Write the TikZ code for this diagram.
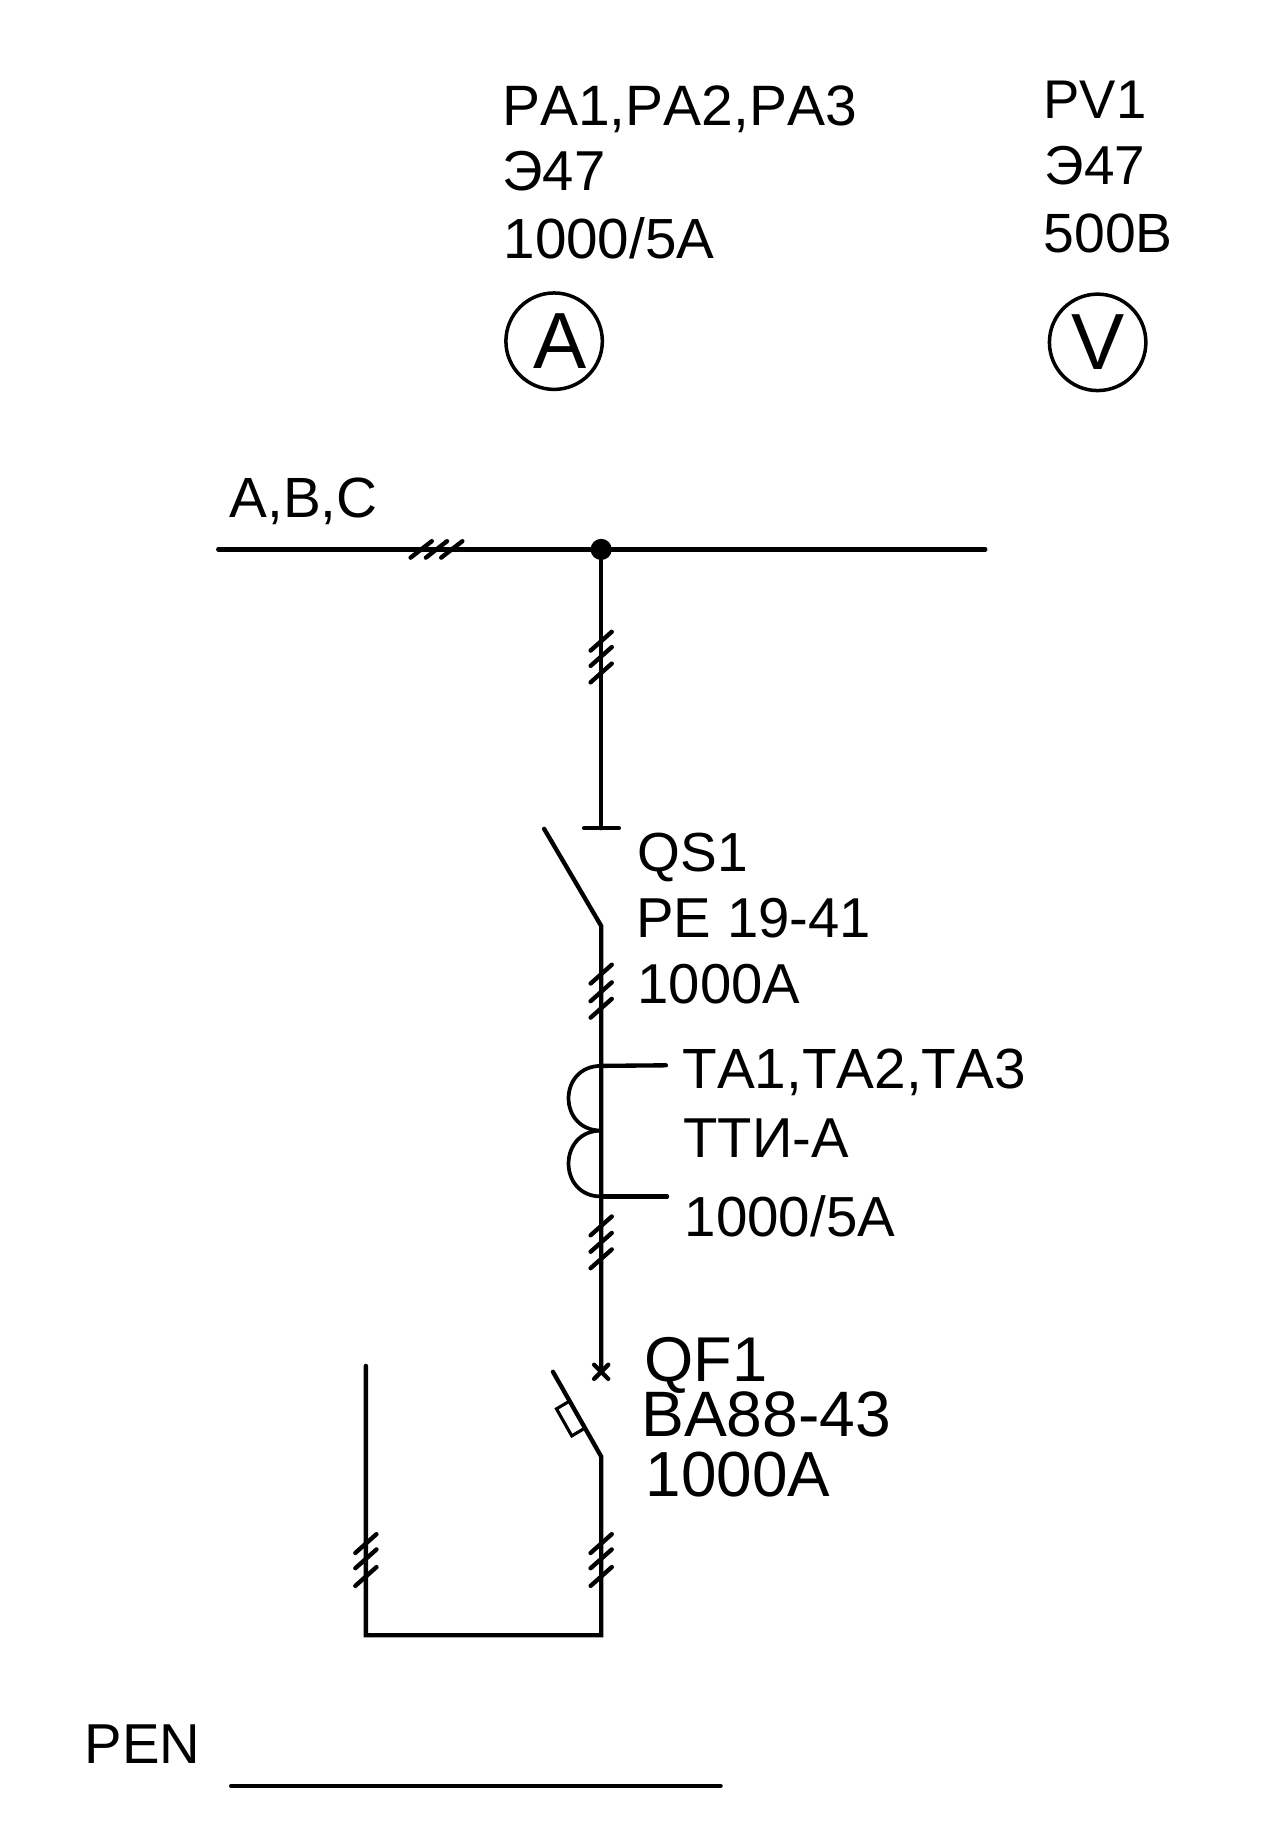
\documentclass[tikz,border=0pt]{standalone}
\usepackage{fontspec}
\setmainfont[Kerning=Off]{Liberation Sans}
\newcommand{\fsz}[1]{\fontsize{\dimexpr#1\dimexpr0.5669pt\relax\relax}{10pt}\selectfont}
\tikzset{
  x=0.02cm,y=-0.02cm,
  wire/.style={line width=2.1pt,line cap=round,line join=miter},
  thin wire/.style={line width=1.8pt,line cap=round},
  tickmark/.style={line width=2.1pt,line cap=round},
  lbl/.style={anchor=base west,inner sep=0pt,outer sep=0pt,text=black},
  meter/.style={circle,draw,line width=1.7pt,minimum size=1.64cm,inner sep=0pt,font=\fsz{68}},
  dot/.style={circle,fill=black,inner sep=0pt,minimum size=0.36cm}
}
\newcommand{\vticks}[2]{\foreach \yy in {#2}{\draw[tickmark] (#1-9,\yy+8) -- (#1+9,\yy-8);}}
\newcommand{\hticks}[2]{\foreach \xx in {#2}{\draw[tickmark] (\xx-9,#1+7) -- (\xx+9,#1-7);}}
\begin{document}
\begin{tikzpicture}
\useasboundingbox (0,0) rectangle (1088,1567.4);
% labels
\node[lbl,font=\fsz{48.6}] (t1) at (427,107) {PA1,PA2,PA3};
\node[lbl,font=\fsz{48}] (t2) at (427,162) {Э47};
\node[lbl,font=\fsz{48.3}] (t3) at (428,220) {1000/5A};
\node[lbl,font=\fsz{46.5}] (t4) at (887,101) {PV1};
\node[lbl,font=\fsz{46.8}] (t5) at (888,157) {Э47};
\node[lbl,font=\fsz{47.2}] (t6) at (887,215) {500B};
\node[meter] (mA) at (471,290) {\kern5.6pt A};
\node[meter] (mV) at (933,291) {V};
\node[lbl,font=\fsz{48.4}] (t7) at (195,440) {A,B,C};
\node[lbl,font=\fsz{47}] (t8) at (542,741) {QS1};
\node[lbl,font=\fsz{48}] (t9) at (541,797) {PE 19-41};
\node[lbl,font=\fsz{48}] (t10) at (542,853) {1000A};
\node[lbl,font=\fsz{48.4}] (t11) at (580,925) {TA1,TA2,TA3};
\node[lbl,font=\fsz{48}] (t12) at (581,984) {ТТИ-А};
\node[lbl,font=\fsz{48.2}] (t13) at (582,1051) {1000/5A};
\node[lbl,font=\fsz{54}] (t14) at (548,1174) {QF1};
\node[lbl,font=\fsz{54.8}] (t15) at (545,1221) {BA88-43};
\node[lbl,font=\fsz{54.4}] (t16) at (549,1272) {1000A};
\node[lbl,font=\fsz{48}] (t17) at (72,1499) {PEN};
% coordinates
\coordinate (busL) at (185.5,467);
\coordinate (busR) at (837.5,467);
\node[dot] (j) at (511,467) {};
\coordinate (qsTop) at (511,704);
\coordinate (qsL) at (496.5,704);
\coordinate (qsR) at (526,704);
\coordinate (bladeA) at (462.5,704.5);
\coordinate (bladeB) at (511,787);
\coordinate (c1) at (511,906);
\coordinate (c2) at (511,961);
\coordinate (c3) at (511,1017);
\coordinate (lead1) at (566,905.5);
\coordinate (lead2) at (567,1017);
\coordinate (qfTop) at (511,1166);
\coordinate (qbA) at (470,1166);
\coordinate (qbB) at (511,1238);
\coordinate (botR) at (511,1390);
\coordinate (botL) at (311,1390);
\coordinate (freeL) at (311,1161);
\coordinate (penA) at (196.5,1518);
\coordinate (penB) at (612.5,1518);
% wires
\draw[wire] (busL) -- (busR);
\draw[wire] (j) -- (qsTop);
\draw[wire] (qsL) -- (qsR);
\draw[wire] (bladeA) -- (bladeB) -- (qfTop);
\draw[wire] (c1) -- (lead1);
\draw[wire] (c3) -- (lead2);
\draw[thin wire] (c1) .. controls (474,906) and (474,961) .. (c2);
\draw[thin wire] (c2) .. controls (474,961) and (474,1017) .. (c3);
\draw[wire] (qbA) -- (qbB) -- (botR) -- (botL) -- (freeL);
\draw[wire] (penA) -- (penB);
% breaker cross and thermal element
\draw[tickmark] (505,1160) -- (517,1172);
\draw[tickmark] (505,1172) -- (517,1160);
\draw[line width=1.5pt,line join=miter] (484,1191) -- (473,1197.5) -- (486,1220.5) -- (497,1214);
% three-phase ticks
\hticks{467}{358,371,384}
\vticks{511}{545,558,572}
\vticks{511}{828,843,857}
\vticks{511}{1042,1056,1070}
\vticks{511}{1312,1325,1340}
\vticks{311}{1312,1325,1340}
\end{tikzpicture}
\end{document}
